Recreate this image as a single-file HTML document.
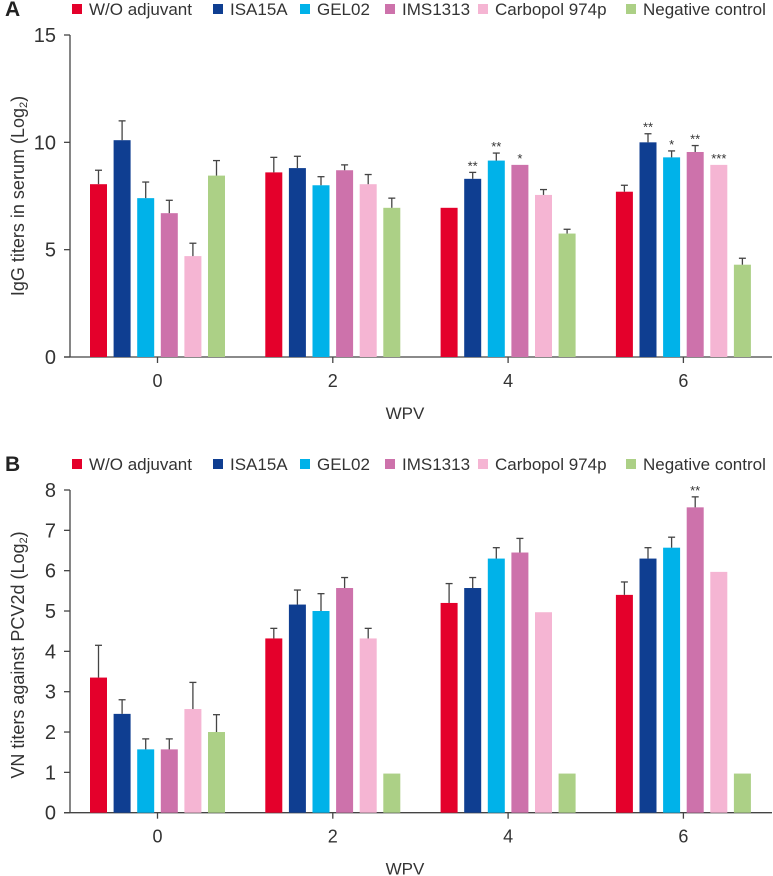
<!DOCTYPE html>
<html><head><meta charset="utf-8"><style>
html,body{margin:0;padding:0;background:#fff}
svg{display:block;font-family:"Liberation Sans",sans-serif}
</style></head><body>
<svg id="c" width="773" height="876" viewBox="0 0 773 876"></svg>
<script>
const series=["W/O adjuvant","ISA15A","GEL02","IMS1313","Carbopol 974p","Negative control"];
const colors=["#e4002b","#0f3e91","#00b2e9","#cd72ab","#f5b5d3","#acd086"];
const categories=["0","2","4","6"];
const aVals=[[8.05,10.1,7.4,6.7,4.7,8.45],[8.6,8.8,8.0,8.7,8.05,6.95],[6.95,8.3,9.15,8.95,7.55,5.75],[7.7,10.0,9.3,9.55,8.95,4.3]];
const aErr=[[8.7,11.0,8.15,7.3,5.3,9.15],[9.3,9.35,8.4,8.95,8.5,7.4],[null,8.6,9.5,null,7.8,5.95],[8.0,10.4,9.6,9.85,null,4.6]];
const aSig=[["","","","","",""],["","","","","",""],["","**","**","*","",""],["","**","*","**","***",""]];
const aTicks=[0,5,10,15];
const bVals=[[3.35,2.45,1.57,1.57,2.57,2.0],[4.32,5.16,5.0,5.57,4.32,0.97],[5.2,5.57,6.3,6.45,4.97,0.97],[5.4,6.3,6.57,7.57,5.97,0.97]];
const bErr=[[4.15,2.8,1.83,1.83,3.23,2.43],[4.57,5.52,5.43,5.83,4.57,null],[5.68,5.83,6.57,6.8,null,null],[5.72,6.57,6.83,7.83,null,null]];
const bSig=[["","","","","",""],["","","","","",""],["","","","","",""],["","","","**","",""]];
const bTicks=[0,1,2,3,4,5,6,7,8];

const svg=document.getElementById('c');
const NS="http://www.w3.org/2000/svg";
function mk(tag,attrs,parent){const e=document.createElementNS(NS,tag);for(const k in attrs)e.setAttribute(k,attrs[k]);(parent||svg).appendChild(e);return e;}
function txt(s,attrs,parent){const e=mk('text',attrs,parent);e.textContent=s;return e;}

function panel(p){
  const g=mk('g',{});
  
  
  const y=v=>p.y0-(v-0)/p.max*(p.y0-p.yTop);
  const xg=i=>157.5+i*175.3;
  const lab=txt(p.letter,{x:5,y:p.legY+7,'font-size':21,'font-weight':'bold',fill:'#222'},g);
  
  
  const lx=[72,213,300,385,478,626];
  series.forEach((s,i)=>{
    const le=mk('g',{},g);
    
    
    mk('rect',{x:lx[i],y:p.legY-5,width:10,height:10,fill:colors[i]},le);
    txt(s,{x:lx[i]+17,y:p.legY+6,'font-size':17,fill:'#333'},le);
  });
  const ax=mk('g',{stroke:'#444','stroke-width':1.3},g);
  
  
  mk('line',{x1:70,y1:p.yTop,x2:70,y2:p.y0},ax);
  mk('line',{x1:64,y1:p.y0,x2:772,y2:p.y0},ax);
  p.ticks.forEach(t=>{
    mk('line',{x1:64,y1:y(t),x2:70,y2:y(t)},ax);
    const tl=txt(String(t),{x:56,y:y(t)+7,'font-size':20,'text-anchor':'end',fill:'#333',stroke:'none'},g);
    
    
  });
  categories.forEach((c,i)=>{
    mk('line',{x1:xg(i),y1:p.y0,x2:xg(i),y2:p.y0+6},ax);
    const tl=txt(c,{x:xg(i),y:p.y0+30,'font-size':18,'text-anchor':'middle',fill:'#333'},g);
    
    
  });
  const xt=txt('WPV',{x:405,y:p.y0+62,'font-size':17,'text-anchor':'middle',fill:'#333'},g);
  
  
  const yt=txt('',{transform:`translate(24,${p.titleY}) rotate(-90)`,'font-size':18,'text-anchor':'middle',fill:'#333'},g);
  
  
  yt.appendChild(document.createTextNode(p.title+' (Log'));
  const sub=document.createElementNS(NS,'tspan');sub.setAttribute('font-size',11);sub.setAttribute('dy',3);sub.textContent='2';yt.appendChild(sub);
  const cl=document.createElementNS(NS,'tspan');cl.setAttribute('dy',-3);cl.textContent=')';yt.appendChild(cl);
  categories.forEach((c,i)=>{
    series.forEach((s,j)=>{
      const v=p.vals[i][j];
      const bx=xg(i)-67.5+j*23.6;
      const r=mk('rect',{x:bx,y:y(v),width:17,height:p.y0-y(v),fill:colors[j]},g);
      
      
      const e=p.err[i][j];
      let top=y(v);
      if(e!=null){
        const eg=mk('g',{stroke:'#444','stroke-width':1.3},g);
        
        
        mk('line',{x1:bx+8.5,y1:y(v),x2:bx+8.5,y2:y(e)},eg);
        mk('line',{x1:bx+5,y1:y(e),x2:bx+12,y2:y(e)},eg);
        top=y(e);
      }
      const sg=p.sig[i][j];
      if(sg){
        const st=txt(sg,{x:bx+8.5,y:top-2,'font-size':13,'text-anchor':'middle',fill:'#333'},g);
        
        
      }
    });
  });
}
panel({name:'panel-a',letter:'A',legY:9,yTop:35,y0:357,max:15,ticks:aTicks,vals:aVals,err:aErr,sig:aSig,title:'IgG titers in serum',titleY:196});
panel({name:'panel-b',letter:'B',legY:464,yTop:490,y0:812.7,max:8,ticks:bTicks,vals:bVals,err:bErr,sig:bSig,title:'VN titers against PCV2d',titleY:655});
</script>
</body></html>
